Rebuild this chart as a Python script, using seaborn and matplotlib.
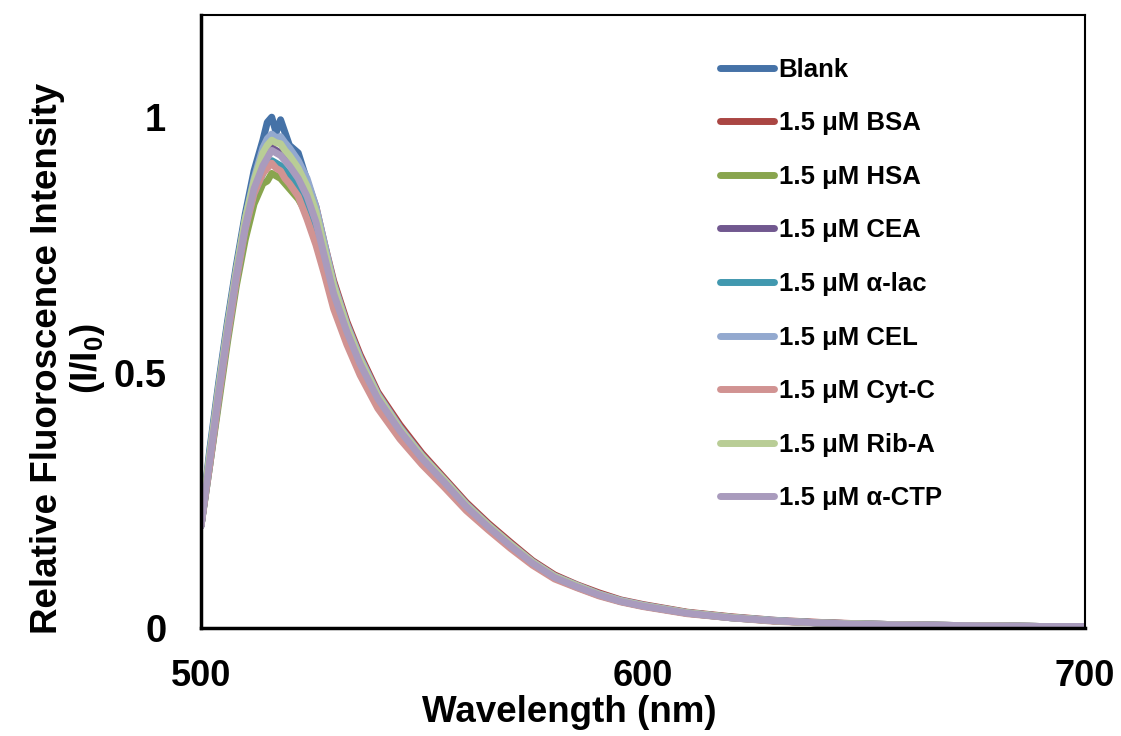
import numpy as np
import pandas as pd
import matplotlib
matplotlib.use("Agg")
import matplotlib.pyplot as plt
from matplotlib import font_manager
import seaborn as sns

# wavelength grid (nm)
wl = [500, 502, 504, 506, 508, 510, 512, 514, 515, 516, 517, 518, 519, 520, 522, 524,
      526, 528, 530, 533, 536, 540, 545, 550, 555, 560, 565, 570, 575, 580, 585, 590,
      595, 600, 610, 620, 630, 640, 650, 660, 670, 680, 690, 700]

blank = [0.20, 0.35, 0.48, 0.60, 0.71, 0.81, 0.895, 0.955, 0.99, 1.00, 0.97, 0.995, 0.97, 0.945,
         0.93, 0.875, 0.81, 0.735, 0.66, 0.585, 0.52, 0.452, 0.388, 0.334, 0.288, 0.240,
         0.200, 0.163, 0.128, 0.100, 0.083, 0.066, 0.053, 0.044, 0.030, 0.021, 0.014,
         0.010, 0.008, 0.006, 0.005, 0.004, 0.003, 0.003]
bsa = [0.20, 0.33, 0.46, 0.58, 0.69, 0.79, 0.87, 0.925, 0.945, 0.955, 0.95, 0.958, 0.945, 0.935,
       0.91, 0.875, 0.825, 0.75, 0.68, 0.60, 0.535, 0.462, 0.398, 0.342, 0.294, 0.246,
       0.205, 0.168, 0.132, 0.104, 0.085, 0.069, 0.055, 0.046, 0.031, 0.022, 0.015,
       0.011, 0.008, 0.006, 0.005, 0.004, 0.003, 0.003]
hsa = [0.20, 0.32, 0.44, 0.56, 0.67, 0.76, 0.83, 0.87, 0.875, 0.89, 0.885, 0.88, 0.87, 0.86,
       0.84, 0.81, 0.77, 0.715, 0.65, 0.578, 0.514, 0.447, 0.384, 0.330, 0.284, 0.237,
       0.197, 0.160, 0.126, 0.099, 0.081, 0.065, 0.052, 0.043, 0.029, 0.020, 0.014,
       0.010, 0.007, 0.006, 0.005, 0.004, 0.003, 0.003]
cea = [0.20, 0.33, 0.46, 0.58, 0.69, 0.79, 0.86, 0.91, 0.93, 0.94, 0.935, 0.93, 0.92, 0.91,
       0.885, 0.85, 0.80, 0.73, 0.66, 0.585, 0.52, 0.45, 0.387, 0.333, 0.287, 0.239,
       0.199, 0.162, 0.127, 0.100, 0.082, 0.066, 0.053, 0.044, 0.030, 0.021, 0.014,
       0.010, 0.008, 0.006, 0.005, 0.004, 0.003, 0.003]
alac = [0.20, 0.32, 0.45, 0.57, 0.68, 0.78, 0.85, 0.89, 0.905, 0.915, 0.91, 0.905, 0.895, 0.885,
        0.865, 0.83, 0.785, 0.72, 0.65, 0.575, 0.51, 0.443, 0.38, 0.328, 0.282, 0.235,
        0.196, 0.159, 0.125, 0.098, 0.080, 0.064, 0.052, 0.043, 0.029, 0.020, 0.014,
        0.010, 0.007, 0.006, 0.005, 0.004, 0.003, 0.003]
cel = [0.20, 0.34, 0.47, 0.59, 0.70, 0.80, 0.88, 0.94, 0.958, 0.967, 0.96, 0.962, 0.95, 0.94,
       0.915, 0.88, 0.825, 0.75, 0.675, 0.595, 0.53, 0.458, 0.393, 0.338, 0.291, 0.243,
       0.202, 0.165, 0.130, 0.102, 0.084, 0.067, 0.054, 0.045, 0.030, 0.021, 0.015,
       0.010, 0.008, 0.006, 0.005, 0.004, 0.003, 0.003]
cytc = [0.20, 0.32, 0.45, 0.57, 0.68, 0.78, 0.85, 0.89, 0.90, 0.91, 0.90, 0.895, 0.88, 0.87,
        0.845, 0.80, 0.75, 0.69, 0.625, 0.555, 0.495, 0.43, 0.37, 0.32, 0.276, 0.23,
        0.192, 0.156, 0.123, 0.096, 0.079, 0.063, 0.051, 0.042, 0.028, 0.020, 0.013,
        0.010, 0.007, 0.006, 0.005, 0.004, 0.003, 0.003]
riba = [0.21, 0.34, 0.47, 0.59, 0.70, 0.80, 0.875, 0.93, 0.945, 0.955, 0.95, 0.948, 0.935, 0.925,
        0.90, 0.865, 0.815, 0.74, 0.67, 0.59, 0.525, 0.455, 0.39, 0.336, 0.290, 0.241,
        0.201, 0.164, 0.129, 0.101, 0.083, 0.066, 0.053, 0.044, 0.030, 0.021, 0.014,
        0.010, 0.008, 0.006, 0.005, 0.004, 0.003, 0.003]
actp = [0.20, 0.33, 0.46, 0.58, 0.69, 0.785, 0.86, 0.905, 0.92, 0.935, 0.93, 0.925, 0.915, 0.905,
        0.88, 0.845, 0.795, 0.725, 0.655, 0.58, 0.517, 0.449, 0.386, 0.332, 0.286, 0.238,
        0.198, 0.161, 0.127, 0.099, 0.081, 0.065, 0.052, 0.043, 0.029, 0.020, 0.014,
        0.010, 0.007, 0.006, 0.005, 0.004, 0.003, 0.003]

labels = ["Blank", "1.5 \u03bcM BSA", "1.5 \u03bcM HSA", "1.5 \u03bcM CEA", "1.5 \u03bcM \u03b1-lac",
          "1.5 \u03bcM CEL", "1.5 \u03bcM Cyt-C", "1.5 \u03bcM Rib-A", "1.5 \u03bcM \u03b1-CTP"]
series = [blank, bsa, hsa, cea, alac, cel, cytc, riba, actp]
colors = ["#4572A7", "#AA4643", "#89A54E", "#71588F", "#4198AF",
          "#93A9CF", "#D19392", "#B9CD96", "#A99BBD"]

sns.set_style("white")
plt.rcParams['font.family'] = ['Liberation Sans', 'DejaVu Sans']
plt.rcParams['font.weight'] = 'bold'
plt.rcParams['mathtext.fontset'] = 'custom'
plt.rcParams['mathtext.rm'] = 'Liberation Sans:bold'
plt.rcParams['mathtext.default'] = 'rm'
for key in ['text.color', 'axes.labelcolor', 'xtick.color', 'ytick.color']:
    plt.rcParams[key] = 'black'

# x axis text in the reference is condensed
installed = set(f.name for f in font_manager.fontManager.ttflist)
if 'Liberation Sans Narrow' in installed:
    xfont, xtick_size, xlab_size = 'Liberation Sans Narrow', 31, 31
else:
    xfont, xtick_size, xlab_size = 'Liberation Sans', 26, 26.5

rows = []
for lab, vals in zip(labels, series):
    for w, v in zip(wl, vals):
        rows.append((w, v, lab))
df = pd.DataFrame(rows, columns=["wl", "val", "sample"])

fig = plt.figure(figsize=(11.21, 7.36), dpi=100)
ax = fig.add_axes([0.1793, 0.1467, 0.7886, 0.8329])
sns.lineplot(data=df, x="wl", y="val", hue="sample", hue_order=labels,
             palette=colors, linewidth=5, ax=ax)

ax.set_xlim(500, 700)
ax.set_ylim(0, 1.2)
ax.set_xticks([500, 600, 700])
ax.set_xticklabels(["500", "600", "700"], family=xfont, fontsize=xtick_size,
                   fontweight='bold')
ax.set_yticks([0, 0.5, 1])
ax.set_yticklabels(["0", "0.5", "1"], fontsize=27.5, fontweight='bold')
ax.tick_params(axis='both', length=0, colors='black')
ax.tick_params(axis='x', pad=22)
ax.tick_params(axis='y', pad=25)

ax.set_xlabel("Wavelength (nm)", family=xfont, fontsize=xlab_size, fontweight='bold')
ax.xaxis.set_label_coords(0.417, -0.11)
ax.set_ylabel("Relative Fluoroscence Intensity\n(I/I$_0$)", fontsize=26.5,
              fontweight='bold', linespacing=1.1)
ax.yaxis.set_label_coords(-0.106, 0.44)

for side in ['left', 'bottom', 'right', 'top']:
    ax.spines[side].set_color('black')
    ax.spines[side].set_linewidth(1.5)
ax.spines['left'].set_linewidth(2.5)
ax.spines['bottom'].set_linewidth(2.5)

ax.legend(loc='upper left', bbox_to_anchor=(0.575, 0.947), frameon=False,
          prop={'size': 18.5, 'weight': 'bold'}, handlelength=2.1,
          handletextpad=0.2, labelspacing=1.15, borderaxespad=0)

fig.savefig("out.png", dpi=100)
